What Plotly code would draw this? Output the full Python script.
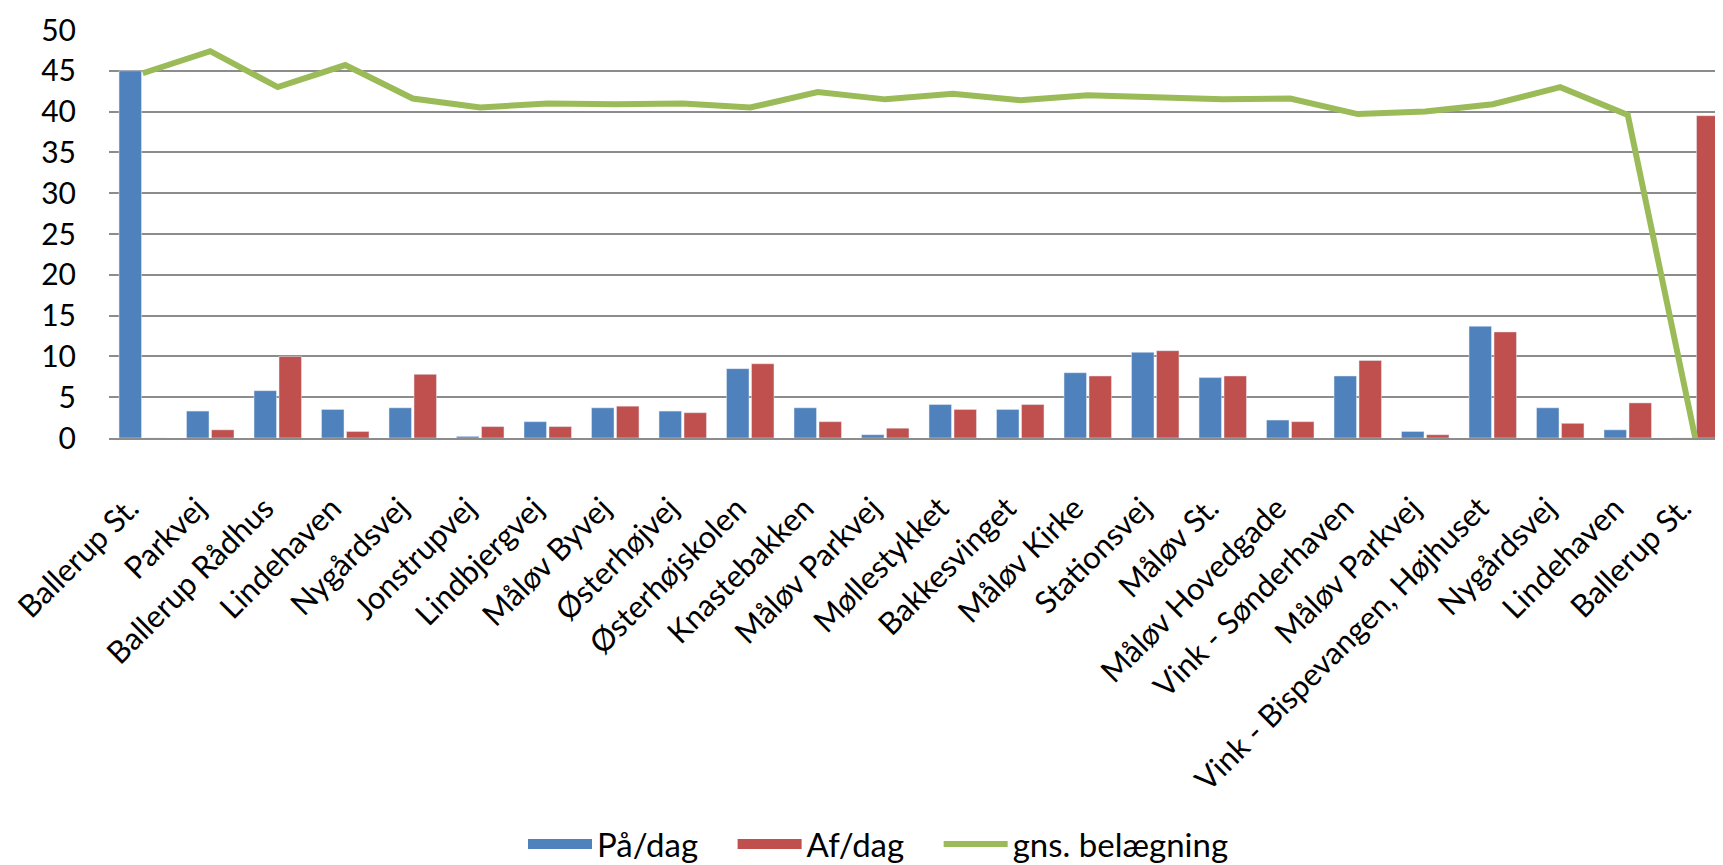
import plotly.graph_objects as go

stops = ["Ballerup St.", "Parkvej", "Ballerup Rådhus", "Lindehaven", "Nygårdsvej",
         "Jonstrupvej", "Lindbjergvej", "Måløv Byvej", "Østerhøjvej", "Østerhøjskolen",
         "Knastebakken", "Måløv Parkvej", "Møllestykket", "Bakkesvinget", "Måløv Kirke",
         "Stationsvej", "Måløv St.", "Måløv Hovedgade", "Vink - Sønderhaven", "Måløv Parkvej",
         "Vink - Bispevangen, Højhuset", "Nygårdsvej", "Lindehaven", "Ballerup St."]

paa_dag = [45.0, 3.3, 5.8, 3.5, 3.7, 0.2, 2.0, 3.7, 3.3, 8.5, 3.7, 0.4,
           4.1, 3.5, 8.0, 10.5, 7.4, 2.2, 7.6, 0.8, 13.7, 3.7, 1.0, 0.0]
af_dag = [0.0, 1.0, 10.0, 0.8, 7.8, 1.4, 1.4, 3.9, 3.1, 9.1, 2.0, 1.2,
          3.5, 4.1, 7.6, 10.7, 7.6, 2.0, 9.5, 0.4, 13.0, 1.8, 4.3, 39.5]
belaegning = [44.7, 47.4, 43.0, 45.7, 41.6, 40.5, 41.0, 40.9, 41.0, 40.5, 42.4, 41.5,
              42.2, 41.4, 42.0, 41.7, 41.5, 41.6, 39.7, 40.0, 40.9, 43.0, 39.6, 0.0]

y_ticks = [0, 5, 10, 15, 20, 25, 30, 35, 40, 45, 50]

series_names = ["På/dag", "Af/dag", "gns. belægning"]

BLUE = "#4F81BD"
RED = "#C0504D"
GREEN = "#9BBB59"
FONT = "Lato"
PAD = "\u00a0" * 3 + "\u2009"

x_idx = list(range(len(stops)))

fig = go.Figure()
fig.add_trace(go.Bar(x=x_idx, y=paa_dag, name=series_names[0], marker_color=BLUE,
                     showlegend=False))
fig.add_trace(go.Bar(x=x_idx, y=af_dag, name=series_names[1], marker_color=RED,
                     showlegend=False))
fig.add_trace(go.Scatter(x=x_idx, y=belaegning, name=series_names[2], mode="lines",
                         line=dict(color=GREEN, width=6), showlegend=False))

# legend entries
fig.add_trace(go.Scatter(x=[None], y=[None], name=series_names[0] + PAD, mode="lines",
                         line=dict(color=BLUE, width=17)))
fig.add_trace(go.Scatter(x=[None], y=[None], name=series_names[1] + PAD, mode="lines",
                         line=dict(color=RED, width=17)))
fig.add_trace(go.Scatter(x=[None], y=[None], name=series_names[2], mode="lines",
                         line=dict(color=GREEN, width=6)))

fig.update_layout(
    width=1723, height=865,
    margin=dict(l=93, r=2, t=22, b=424),
    paper_bgcolor="white", plot_bgcolor="white",
    barmode="group", bargap=0.26, bargroupgap=0.1,
    font=dict(family=FONT, size=31, color="#000000"),
    showlegend=True,
    legend=dict(orientation="h", x=0.475, xanchor="center", y=-0.995, yanchor="middle",
                itemwidth=64, font=dict(size=33, family=FONT),
                bgcolor="rgba(0,0,0,0)"),
)
fig.update_xaxes(
    range=[-0.5, len(stops) - 0.5],
    tickmode="array", tickvals=x_idx, ticktext=stops, tickangle=-45,
    showgrid=False, showline=True, linecolor="#8C8C8C", linewidth=1.5,
    ticks="outside", ticklen=38, tickcolor="rgba(0,0,0,0)",
    ticklabelshift=-13, ticklabeloverflow="allow",
    tickfont=dict(size=31, family=FONT),
    zeroline=False,
)
fig.update_yaxes(
    range=[0, 50], tickmode="array", tickvals=y_ticks,
    showgrid=True, gridcolor="#8C8C8C", gridwidth=1.5,
    showline=False, zeroline=False,
    ticks="outside", ticklen=26, tickcolor="rgba(0,0,0,0)",
    tickfont=dict(size=30, family=FONT),
)

fig.write_html("out.html")
